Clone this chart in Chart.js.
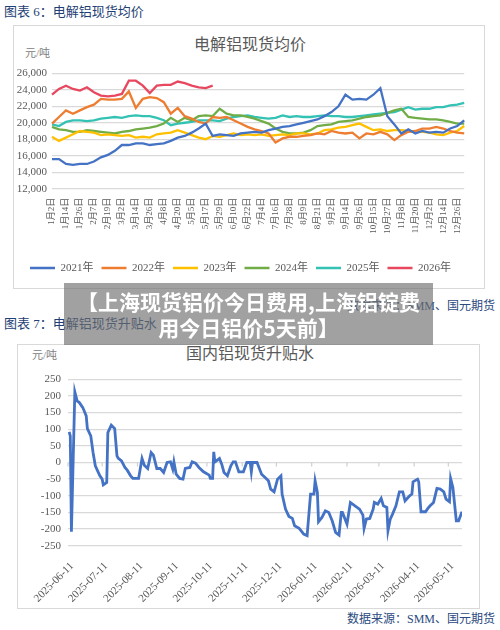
<!DOCTYPE html>
<html>
<head>
<meta charset="utf-8">
<script src="https://cdn.jsdelivr.net/npm/chart.js@4.4.0/dist/chart.umd.min.js"></script>
<style>
  body { margin: 0; width: 500px; height: 630px; background: #fff; position: relative; overflow: hidden;
         font-family: "Liberation Serif", "Noto Sans CJK SC", serif; }
  .cap  { position: absolute; left: 4px; font-size: 13px; line-height: 17px; color: #1f3f75; }
  .src  { position: absolute; right: 5px; font-size: 12px; line-height: 16px; color: #2b4a80; }
  .box  { position: absolute; border: 1.5px solid #d9d9d9; box-sizing: border-box; }
  .ttl  { position: absolute; left: 0; width: 500px; text-align: center; font-size: 16px; line-height: 20px; color: #595959; }
  .unit { position: absolute; font-size: 11px; line-height: 14px; color: #808080; }
  canvas { position: absolute; }
  #banner { position: absolute; left: 64px; top: 283px; width: 369px; height: 62px; z-index: 10;
            background: rgba(110,110,110,0.65); color: #fff; text-align: center; padding-top: 5px; box-sizing: border-box;
            font: bold 21px/26px "Noto Sans CJK SC", sans-serif; }
</style>
</head>
<body>
<div class="cap" style="top:3px">图表 6：电解铝现货均价</div>
<div class="box" style="left:13px;top:25px;width:472px;height:264px"></div>
<div class="ttl" style="top:35px">电解铝现货均价</div>
<div class="unit" style="left:25px;top:46px">元/吨</div>
<canvas id="c1" width="470" height="262" style="left:14px;top:26px"></canvas>
<div class="src" style="top:298px">数据来源：SMM、国元期货</div>

<div class="cap" style="top:315px">图表 7：电解铝现货升贴水</div>
<div class="box" style="left:17px;top:344px;width:463px;height:265px"></div>
<div class="ttl" style="top:344px">国内铝现货升贴水</div>
<div class="unit" style="left:32px;top:348px">元/吨</div>
<canvas id="c2" width="461" height="262" style="left:18px;top:345px"></canvas>
<div class="src" style="top:611px">数据来源：SMM、国元期货</div>

<div id="banner">【上海现货铝价今日费用,上海铝锭费<br>用今日铝价5天前】</div>

<script>
'use strict';
// ── chart 1 data: one value per half label step ───────────────────────────
const DATES = ['1月2日','1月14日','1月26日','2月7日','2月19日','3月2日','3月14日','3月26日','4月8日','4月20日',
               '5月5日','5月17日','5月29日','6月10日','6月22日','7月4日','7月16日','7月28日','8月9日','8月21日',
               '9月2日','9月14日','9月26日','10月15日','10月27日','11月8日','11月20日','12月2日','12月14日','12月26日'];

const Y2021 = [15600,15600,15000,14900,15000,15000,15300,15800,16100,16600,
               17300,17300,17500,17500,17300,17400,17500,17800,18200,18400,
               18800,19300,19900,18400,18600,18500,18400,18700,18800,18900,
               18800,19100,19300,19500,19600,19800,20000,20200,20400,20800,
               21300,22000,23400,22800,22900,22800,23400,24200,20800,19800,
               18700,19200,18700,19000,18800,18900,18800,19300,19600,20300];
const Y2022 = [19900,20700,21500,21100,21500,21900,22200,22900,22800,22800,
               22900,23800,21800,22900,23100,23000,22500,21100,21800,20800,
               20500,20100,19900,20700,20600,20700,20300,19900,19500,19200,
               19000,18700,17600,18100,18300,18300,18400,18500,18700,18600,
               19000,18800,18700,18800,18100,18700,18600,18900,18600,17900,
               18500,18900,19000,19300,19300,19500,19300,19000,18800,18700];
const Y2023 = [18300,17800,18200,18600,19000,18900,18800,18500,18600,18500,
               18400,18500,18200,18300,18200,18600,18700,18800,19100,18800,
               18500,18200,18000,18400,18300,18500,18700,18500,18600,18500,
               18600,18400,18500,18600,18500,18700,18700,18600,18700,19100,
               19200,19400,19500,19700,19900,19500,19100,19200,19000,19100,
               19100,19000,18900,18900,18800,18600,18500,18800,19000,19600];
const Y2024 = [19500,19200,19100,18900,18900,19100,19000,18900,18800,18700,
               18900,19000,19200,19300,19400,19600,19900,20600,20100,20600,
               20300,20800,20900,20800,21700,21100,20900,20900,20700,20500,
               20200,19900,19300,18900,18700,18700,18800,19100,19600,19700,
               19800,20100,20200,20300,20500,20700,20800,20900,21200,21500,
               21700,20700,20600,20500,20400,20400,20300,20100,19900,19900];
const Y2025 = [19800,19600,20100,20300,20300,20200,20300,20500,20600,20700,
               20600,20800,20900,20800,20800,20600,20300,19700,19900,20000,
               20100,20300,20300,20300,20200,20500,20700,20800,20900,20700,
               20600,20500,20600,20900,20700,20800,20700,20700,20800,20900,
               20800,20800,20700,20700,20800,20900,21000,21100,21200,21300,
               21600,21900,21600,21700,21700,21900,21900,22100,22200,22400];
const Y2026 = [23400,24100,24500,24100,23900,24300,23700,23300,23200,23300,
               23500,25100,25100,24500,23600,24500,24600,24600,25000,24800,
               24500,24300,24200,24500];

const SERIES = [
  ['2021年', Y2021, '#4472c4'],
  ['2022年', Y2022, '#ed7d31'],
  ['2023年', Y2023, '#ffc000'],
  ['2024年', Y2024, '#70ad47'],
  ['2025年', Y2025, '#33c2b3'],
  ['2026年', Y2026, '#e8485f'],
];

// ── chart 2 data: day offset from 2025-06-11 and spread (元/吨) ────────────
const DAYS = [1,2,3,6,8,10,13,16,17,20, 22,24,26,28,30,31,34,35,38,41,
              43,44,47,50,52,55,57,62,65,67, 70,73,75,78,81,84,87,90,92,93,
              95,98,101,103,107,109,112,115,119,124, 125,127,128,129,133,135,137,140,143,145,
              147,150,154,157,160,161,162,166,170,174, 176,178,181,184,187,188,191,194,197,199,
              203,207,210,213,216,217,219,220,223,226, 229,232,235,238,240,241,245,248,252,256,
              259,260,262,265,268,269,272,275,277,280, 281,283,285,288,291,294,296,300,302,303,
              307,308,310,314,316,318,321,324,327,330, 332,335,336,338,341,343,346];
const SPREAD = [92,80,-208,212,185,180,165,140,102,80, 30,-10,-25,-40,-50,-67,-60,90,112,102,
                20,13,5,-15,-23,-40,-48,-48,12,-8, -18,30,22,-18,-18,-30,0,2,-20,2,
                -35,-48,-50,-18,-15,2,-2,-15,-28,-38, -48,-48,32,2,12,-5,-30,-40,-10,2,
                2,-28,-28,0,0,-28,0,0,-35,-48, -55,-80,-88,-50,-40,-95,-140,-162,-168,-190,
                -198,-215,-220,-95,-95,-55,-90,-178,-165,-145, -150,-175,-210,-218,-150,-150,-185,-120,-130,-140,
                -158,-198,-170,-168,-140,-120,-125,-108,-130,-135, -205,-170,-155,-130,-88,-88,-115,-100,-95,-58,
                -50,-58,-148,-148,-138,-130,-120,-78,-80,-88, -110,-118,-48,-75,-175,-175,-148];
const TICK_DAYS   = [0,30,61,92,122,153,183,214,245,273,304,334];
const TICK_LABELS = ['2025-06-11','2025-07-11','2025-08-11','2025-09-11','2025-10-11','2025-11-11',
                     '2025-12-11','2026-01-11','2026-02-11','2026-03-11','2026-04-11','2026-05-11'];

const FONT = "'Liberation Serif', 'Noto Sans CJK SC', serif";
const GRID = '#d9d9d9';
const TEXT = '#595959';
Chart.defaults.font.family = FONT;
Chart.defaults.color = TEXT;

// ── Chart 1: 电解铝现货均价 ─────────────────────────────────────────────────
new Chart(document.getElementById('c1'), {
  type: 'line',
  data: {
    labels: DATES.flatMap(d => [d, '']),
    datasets: SERIES.map(([label, data, color]) => ({
      label, data, borderColor: color, backgroundColor: color,
      borderWidth: 2.3, pointRadius: 0, tension: 0,
    })),
  },
  options: {
    responsive: false, animation: false, devicePixelRatio: 1,
    layout: { padding: { left: 0, right: 17, top: 47.3, bottom: 4.5 } },
    plugins: {
      tooltip: { enabled: false },
      legend: {
        position: 'bottom',
        labels: { usePointStyle: true, pointStyle: 'line', pointStyleWidth: 25, boxHeight: 11,
                  padding: 8, color: TEXT, font: { size: 11 } },
      },
    },
    scales: {
      x: {
        grid: { display: false, drawTicks: false }, border: { display: false },
        ticks: { autoSkip: false, minRotation: 90, maxRotation: 90, padding: 9, font: { size: 9 } },
        afterFit: s => { s.height = 65.8; },
      },
      y: {
        min: 12000, max: 26000,
        grid: { color: GRID, lineWidth: 1.3, drawTicks: false }, border: { display: false },
        ticks: { stepSize: 2000, padding: 5, font: { size: 11 } },
        afterFit: s => { s.width = 38; },
      },
    },
  },
});

// ── Chart 2: 国内铝现货升贴水 ──────────────────────────────────────────────
const zeroTicks = {
  id: 'zeroTicks',
  beforeDatasetsDraw(chart) {
    const { ctx, scales: { x, y } } = chart;
    const y0 = y.getPixelForValue(0);
    ctx.save();
    ctx.strokeStyle = '#cfcfcf';
    ctx.lineWidth = 1.2;
    TICK_DAYS.forEach(d => {
      const px = x.getPixelForValue(d);
      ctx.beginPath(); ctx.moveTo(px, y0); ctx.lineTo(px, y0 + 4); ctx.stroke();
    });
    ctx.restore();
  },
};

new Chart(document.getElementById('c2'), {
  type: 'line',
  data: {
    datasets: [{
      label: '升贴水',
      data: DAYS.map((d, i) => ({ x: d, y: SPREAD[i] })),
      borderColor: '#4472c4', borderWidth: 2.8, pointRadius: 0, tension: 0,
    }],
  },
  options: {
    responsive: false, animation: false, devicePixelRatio: 1,
    layout: { padding: { left: 0, right: 17, top: 34.3, bottom: 0 } },
    plugins: { legend: { display: false }, tooltip: { enabled: false } },
    scales: {
      x: {
        type: 'linear', min: 0, max: 346,
        grid: { display: false, drawTicks: false }, border: { display: false },
        afterBuildTicks: s => { s.ticks = TICK_DAYS.map(v => ({ value: v })); },
        ticks: { autoSkip: false, minRotation: 45, maxRotation: 45, padding: 14, labelOffset: 4,
                 font: { size: 11 }, callback: v => TICK_LABELS[TICK_DAYS.indexOf(v)] },
        afterFit: s => { s.height = 61.3; },
      },
      y: {
        min: -250, max: 250,
        grid: { color: GRID, lineWidth: 1.3, drawTicks: false }, border: { display: false },
        ticks: { stepSize: 50, padding: 7, font: { size: 11 } },
        afterFit: s => { s.width = 44; },
      },
    },
  },
  plugins: [zeroTicks],
});
</script>
</body>
</html>
